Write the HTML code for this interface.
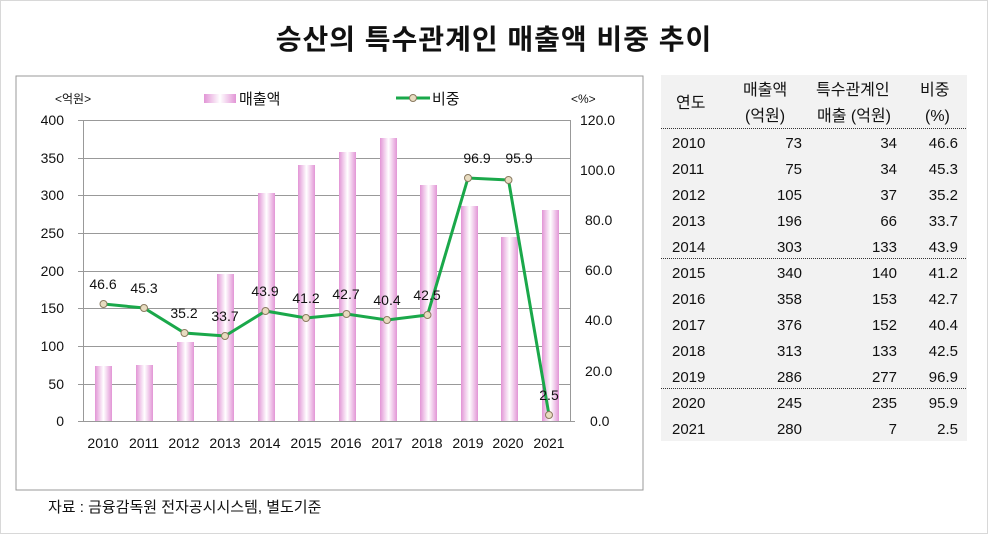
<!DOCTYPE html>
<html><head><meta charset="utf-8"><style>
body{margin:0;width:988px;height:534px;background:#fff;font-family:"Liberation Sans","Noto Sans CJK KR",sans-serif;position:relative;overflow:hidden}
.t{position:absolute;white-space:nowrap}
</style></head><body>
<div style="position:absolute;left:0;top:0;width:986px;height:532px;border:1px solid #d8d8d8"></div>
<div class="t" style="left:0;width:988px;text-align:center;top:18px;font-size:28px;font-weight:bold;color:#111;letter-spacing:1px">승산의 특수관계인 매출액 비중 추이</div>
<svg style="position:absolute;left:0;top:0" width="988" height="534" font-family="Liberation Sans, Noto Sans CJK KR, sans-serif">
<defs><linearGradient id="g" x1="0" x2="1"><stop offset="0" stop-color="#e295d6"/><stop offset="0.5" stop-color="#fff"/><stop offset="1" stop-color="#e295d6"/></linearGradient></defs>
<rect x="16" y="76" width="627" height="414" fill="#fff" stroke="#999"/>
<g stroke="#999" stroke-width="1">
<line x1="78" y1="120.5" x2="570" y2="120.5"/><line x1="78" y1="158.5" x2="570" y2="158.5"/><line x1="78" y1="195.5" x2="570" y2="195.5"/><line x1="78" y1="233.5" x2="570" y2="233.5"/><line x1="78" y1="271.5" x2="570" y2="271.5"/><line x1="78" y1="308.5" x2="570" y2="308.5"/><line x1="78" y1="346.5" x2="570" y2="346.5"/><line x1="78" y1="384.5" x2="570" y2="384.5"/><line x1="78" y1="421.5" x2="575" y2="421.5"/>
<line x1="83.5" y1="120" x2="83.5" y2="421"/><line x1="570.5" y1="120" x2="570.5" y2="421"/>
</g>
<g fill="url(#g)">
<rect x="95" y="366" width="17" height="55"/><rect x="136" y="365" width="17" height="56"/><rect x="177" y="342" width="17" height="79"/><rect x="217" y="274" width="17" height="147"/><rect x="258" y="193" width="17" height="228"/><rect x="298" y="165" width="17" height="256"/><rect x="339" y="152" width="17" height="269"/><rect x="380" y="138" width="17" height="283"/><rect x="420" y="185" width="17" height="236"/><rect x="461" y="206" width="17" height="215"/><rect x="501" y="237" width="17" height="184"/><rect x="542" y="210" width="17" height="211"/>
</g>
<polyline fill="none" stroke="#1aa84a" stroke-width="3" points="103.5,304 144,308 184.5,333 225,336 265.5,311 306,318 346.5,314 387,320 427.5,315 468,178 508.5,180 549,415"/>
<g fill="#e8dcc0" stroke="#8a7a60" stroke-width="1">
<circle cx="103.5" cy="304" r="3.5"/><circle cx="144" cy="308" r="3.5"/><circle cx="184.5" cy="333" r="3.5"/><circle cx="225" cy="336" r="3.5"/><circle cx="265.5" cy="311" r="3.5"/><circle cx="306" cy="318" r="3.5"/><circle cx="346.5" cy="314" r="3.5"/><circle cx="387" cy="320" r="3.5"/><circle cx="427.5" cy="315" r="3.5"/><circle cx="468" cy="178" r="3.5"/><circle cx="508.5" cy="180" r="3.5"/><circle cx="549" cy="415" r="3.5"/>
</g>
<g font-size="14" fill="#111" text-anchor="middle">
<text x="103" y="289">46.6</text><text x="144" y="293">45.3</text><text x="184" y="318">35.2</text><text x="225" y="321">33.7</text><text x="265" y="296">43.9</text><text x="306" y="303">41.2</text><text x="346" y="299">42.7</text><text x="387" y="305">40.4</text><text x="427" y="300">42.5</text><text x="477" y="163">96.9</text><text x="519" y="163">95.9</text><text x="549" y="400">2.5</text>
</g>
<g font-size="14" fill="#111" text-anchor="end">
<text x="64" y="125">400</text><text x="64" y="163">350</text><text x="64" y="200">300</text><text x="64" y="238">250</text><text x="64" y="276">200</text><text x="64" y="313">150</text><text x="64" y="351">100</text><text x="64" y="389">50</text><text x="64" y="426">0</text>
</g>
<g font-size="14" fill="#111" text-anchor="start">
<text x="580" y="125">120.0</text><text x="580" y="175">100.0</text><text x="585" y="225">80.0</text><text x="585" y="275">60.0</text><text x="585" y="325">40.0</text><text x="585" y="376">20.0</text><text x="590" y="426">0.0</text>
</g>
<g font-size="14" fill="#111" text-anchor="middle">
<text x="103" y="448">2010</text><text x="144" y="448">2011</text><text x="184" y="448">2012</text><text x="225" y="448">2013</text><text x="265" y="448">2014</text><text x="306" y="448">2015</text><text x="346" y="448">2016</text><text x="387" y="448">2017</text><text x="427" y="448">2018</text><text x="468" y="448">2019</text><text x="508" y="448">2020</text><text x="549" y="448">2021</text>
</g>
<text x="55" y="103" font-size="12" fill="#111">&lt;억원&gt;</text>
<text x="571" y="103" font-size="12" fill="#111">&lt;%&gt;</text>
<rect x="204" y="94" width="32" height="9" fill="url(#g)"/>
<text x="239" y="104" font-size="15" fill="#111">매출액</text>
<line x1="396" y1="98" x2="430" y2="98" stroke="#1aa84a" stroke-width="3"/>
<circle cx="413" cy="98" r="3.5" fill="#e8dcc0" stroke="#8a7a60"/>
<text x="432" y="104" font-size="15" fill="#111">비중</text>
<text x="48" y="512" font-size="15" fill="#111">자료 : 금융감독원 전자공시시스템, 별도기준</text>
<rect x="661" y="75" width="306" height="366" fill="#f2f2f2"/>
<g stroke="#333" stroke-width="1" stroke-dasharray="1,1">
<line x1="661" y1="128.5" x2="967" y2="128.5"/><line x1="661" y1="258.5" x2="967" y2="258.5"/><line x1="661" y1="388.5" x2="967" y2="388.5"/>
</g>
<g font-size="16" fill="#111">
<text x="676" y="108">연도</text>
<text x="743" y="95">매출액</text><text x="745" y="121">(억원)</text>
<text x="816" y="95">특수관계인</text><text x="817" y="121">매출 (억원)</text>
<text x="920" y="95">비중</text><text x="925" y="121">(%)</text>
</g>
<g font-size="15" fill="#111">
<g text-anchor="start">
<text x="672" y="148">2010</text><text x="672" y="174">2011</text><text x="672" y="200">2012</text><text x="672" y="226">2013</text><text x="672" y="252">2014</text><text x="672" y="278">2015</text><text x="672" y="304">2016</text><text x="672" y="330">2017</text><text x="672" y="356">2018</text><text x="672" y="382">2019</text><text x="672" y="408">2020</text><text x="672" y="434">2021</text>
</g>
<g text-anchor="end">
<text x="802" y="148">73</text><text x="802" y="174">75</text><text x="802" y="200">105</text><text x="802" y="226">196</text><text x="802" y="252">303</text><text x="802" y="278">340</text><text x="802" y="304">358</text><text x="802" y="330">376</text><text x="802" y="356">313</text><text x="802" y="382">286</text><text x="802" y="408">245</text><text x="802" y="434">280</text>
<text x="897" y="148">34</text><text x="897" y="174">34</text><text x="897" y="200">37</text><text x="897" y="226">66</text><text x="897" y="252">133</text><text x="897" y="278">140</text><text x="897" y="304">153</text><text x="897" y="330">152</text><text x="897" y="356">133</text><text x="897" y="382">277</text><text x="897" y="408">235</text><text x="897" y="434">7</text>
<text x="958" y="148">46.6</text><text x="958" y="174">45.3</text><text x="958" y="200">35.2</text><text x="958" y="226">33.7</text><text x="958" y="252">43.9</text><text x="958" y="278">41.2</text><text x="958" y="304">42.7</text><text x="958" y="330">40.4</text><text x="958" y="356">42.5</text><text x="958" y="382">96.9</text><text x="958" y="408">95.9</text><text x="958" y="434">2.5</text>
</g>
</g>
</svg>
</body></html>
